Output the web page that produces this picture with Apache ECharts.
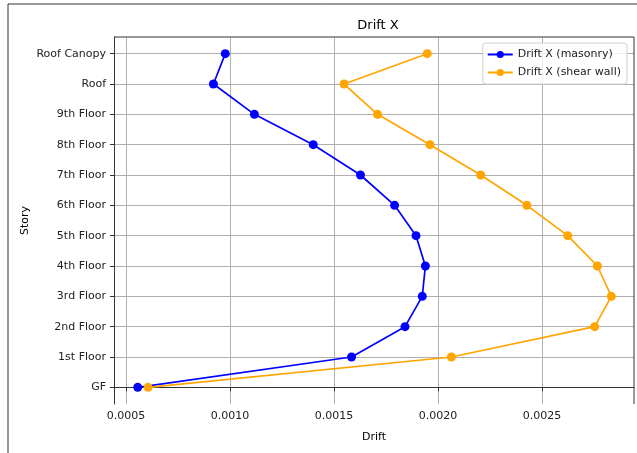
<!DOCTYPE html>
<html>
<head>
<meta charset="utf-8">
<script src="https://cdn.jsdelivr.net/npm/echarts@6/dist/echarts.min.js"></script>
<style>
  html, body { margin: 0; padding: 0; background: #fff; }
  #chart { width: 637px; height: 453px; }
</style>
</head>
<body>
<div id="chart"></div>
<script>
  // stories, bottom to top
  const stories = ['GF', '1st Floor', '2nd Floor', '3rd Floor', '4th Floor', '5th Floor',
    '6th Floor', '7th Floor', '8th Floor', '9th Floor', 'Roof', 'Roof Canopy'];
  const driftMasonry = [0.000556, 0.001584, 0.001841, 0.001924, 0.001939, 0.001894,
    0.001791, 0.001627, 0.001400, 0.001117, 0.000920, 0.000977];
  const driftShearWall = [0.000606, 0.002064, 0.002753, 0.002833, 0.002766, 0.002623,
    0.002427, 0.002205, 0.001961, 0.001709, 0.001548, 0.001948];
  const xTicks = [0.0005, 0.0010, 0.0015, 0.0020, 0.0025];

  const storyIdx = stories.map((s, i) => i);
  const font = 'DejaVu Sans';
  const gridColor = '#b0b0b0';

  const myChart = echarts.init(document.getElementById('chart'));
  const option = {
    animation: false,
    backgroundColor: '#fff',
    textStyle: { fontFamily: font },
    title: {
      text: 'Drift X',
      left: 373, top: 14, textAlign: 'center',
      textStyle: { fontFamily: font, fontSize: 13, fontWeight: 'normal', color: '#000' }
    },
    graphic: [
      { type: 'line', shape: { x1: 8, y1: 4, x2: 637, y2: 4 }, style: { stroke: '#333', lineWidth: 1 } },
      { type: 'line', shape: { x1: 8, y1: 4, x2: 8, y2: 453 }, style: { stroke: '#333', lineWidth: 1 } },
      // top and right spines of the plot box
      { type: 'polyline', z: 10, shape: { points: [[114, 37], [634, 37], [634, 404]] },
        style: { stroke: '#333', lineWidth: 1, fill: null } }
    ],
    legend: {
      orient: 'vertical',
      right: 10, top: 43,
      itemWidth: 25, itemHeight: 9, itemGap: 7,
      padding: [6, 6, 6, 4],
      borderColor: '#d0d0d0', borderWidth: 1, borderRadius: 3,
      backgroundColor: 'rgba(255,255,255,0.8)',
      textStyle: { fontFamily: font, fontSize: 11, color: '#222' },
      data: ['Drift X (masonry)', 'Drift X (shear wall)']
    },
    grid: { left: 114, right: 3, top: 37, bottom: 49, containLabel: false },
    xAxis: {
      type: 'value',
      min: 0.000442, max: 0.002942,
      name: 'Drift', nameLocation: 'middle', nameGap: 28, nameMoveOverlap: false,
      nameTextStyle: { fontFamily: font, fontSize: 11, color: '#000' },
      axisLine: { show: true, lineStyle: { color: '#333', width: 1 } },
      axisTick: { show: true, customValues: xTicks, length: 4, lineStyle: { color: '#333' } },
      axisLabel: {
        customValues: xTicks, fontFamily: font, fontSize: 11, color: '#222', margin: 7,
        formatter: v => v.toFixed(4)
      },
      splitLine: { show: true, lineStyle: { color: gridColor, width: 1 } }
    },
    yAxis: {
      type: 'value',
      min: -0.55, max: 11.55,
      name: 'Story', nameLocation: 'middle', nameGap: 83, nameRotate: 90, nameMoveOverlap: false,
      nameTextStyle: { fontFamily: font, fontSize: 11, color: '#000' },
      axisLine: { show: true, lineStyle: { color: '#333', width: 1 } },
      axisTick: { show: true, customValues: storyIdx, length: 4, lineStyle: { color: '#333' } },
      axisLabel: {
        customValues: storyIdx, fontFamily: font, fontSize: 11, color: '#222', margin: 8,
        formatter: v => stories[Math.round(v)]
      },
      splitLine: { show: true, lineStyle: { color: gridColor, width: 1 } }
    },
    series: [
      {
        name: 'Drift X (masonry)',
        type: 'line',
        data: driftMasonry.map((v, i) => [v, i]),
        color: '#0000ff',
        symbol: 'circle', symbolSize: 9,
        lineStyle: { width: 1.7 }
      },
      {
        name: 'Drift X (shear wall)',
        type: 'line',
        data: driftShearWall.map((v, i) => [v, i]),
        color: '#ffa500',
        symbol: 'circle', symbolSize: 9,
        lineStyle: { width: 1.7 }
      }
    ]
  };
  myChart.setOption(option);
</script>
</body>
</html>
